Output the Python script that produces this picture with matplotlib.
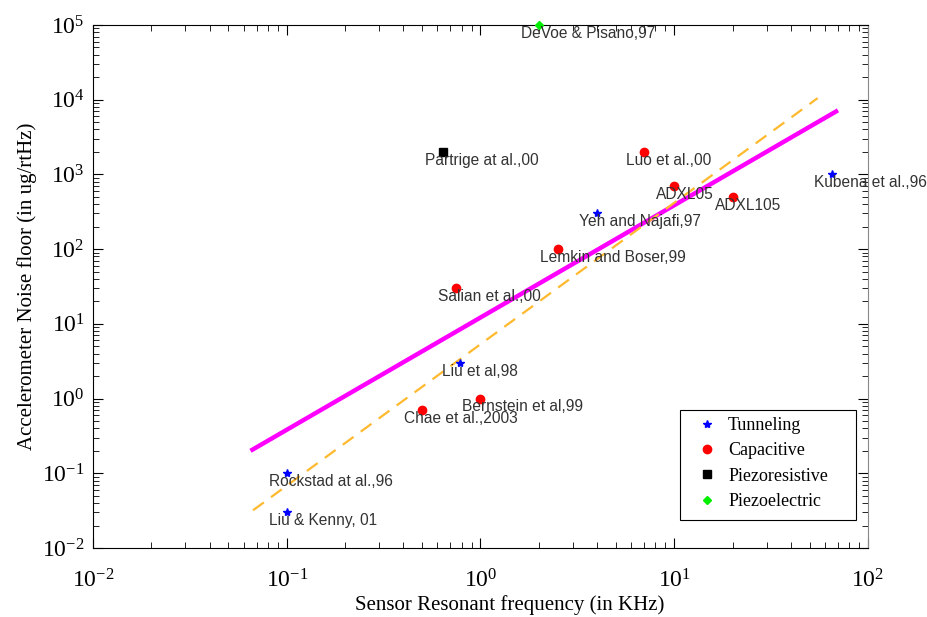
import matplotlib
matplotlib.use("Agg")
import matplotlib.pyplot as plt
from matplotlib.patches import Rectangle
from matplotlib.ticker import LogLocator, NullFormatter

# data (frequency in KHz, noise in ug/rtHz)
TUNNELING_F = [65, 4, 0.78, 0.1, 0.1]
TUNNELING_N = [1000, 300, 3, 0.1, 0.03]
TUNNELING_LBL = ["Kubena et al.,96", "Yeh and Najafi,97", "Liu et al,98",
                 "Rockstad at al.,96", "Liu & Kenny, 01"]

CAPACITIVE_F = [7, 10, 20, 2.5, 0.75, 1.0, 0.5]
CAPACITIVE_N = [2000, 700, 500, 100, 30, 1.0, 0.7]
CAPACITIVE_LBL = ["Luo et al.,00", "ADXL05", "ADXL105", "Lemkin and Boser,99",
                  "Salian et al.,00", "Bernstein et al,99", "Chae et al.,2003"]

PIEZORES_F = [0.64]
PIEZORES_N = [2000]
PIEZORES_LBL = ["Partrige at al.,00"]

PIEZOEL_F = [2.0]
PIEZOEL_N = [1e5]
PIEZOEL_LBL = ["DeVoe & Pisano,97"]

# trend lines (end points)
FIT1_F = [0.065, 70]
FIT1_N = [0.2, 7200]
FIT2_F = [0.067, 55]
FIT2_N = [0.032, 10500]

serif = ["Liberation Serif", "DejaVu Serif"]
plt.rcParams["axes.unicode_minus"] = False
plt.rcParams["mathtext.fontset"] = "custom"
plt.rcParams["mathtext.rm"] = "Liberation Serif"
plt.rcParams["mathtext.it"] = "Liberation Serif:italic"
plt.rcParams["mathtext.default"] = "rm"

W, H = 928, 617
fig = plt.figure(figsize=(W / 100, H / 100), dpi=100)
ax = fig.add_axes([0.1002, 0.1118, 0.8351, 0.8477])

ax.plot(FIT1_F, FIT1_N, color="#ff00ff", lw=3.2, solid_capstyle="butt")
ax.plot(FIT2_F, FIT2_N, color="#ffb92e", lw=1.6, ls=(0, (6, 4)))

groups = [
    (TUNNELING_F, TUNNELING_N, TUNNELING_LBL, "*", "#0000ff", 6, "Tunneling"),
    (CAPACITIVE_F, CAPACITIVE_N, CAPACITIVE_LBL, "o", "#ff0000", 6, "Capacitive"),
    (PIEZORES_F, PIEZORES_N, PIEZORES_LBL, "s", "#000000", 6, "Piezoresistive"),
    (PIEZOEL_F, PIEZOEL_N, PIEZOEL_LBL, "D", "#00ee00", 4.5, "Piezoelectric"),
]
handles = []
for f, n, lbls, mk, col, ms, name in groups:
    h, = ax.plot(f, n, ls="none", marker=mk, color=col, ms=ms, mec=col,
                 clip_on=False, label=name, zorder=4)
    handles.append(h)
    for x, y, t in zip(f, n, lbls):
        ax.annotate(t, (x, y), xytext=(-13, -6), textcoords="offset points",
                    ha="left", va="center", fontsize=11.2, color="#333333",
                    family=["Liberation Sans", "DejaVu Sans"], zorder=5)

ax.set_xscale("log")
ax.set_yscale("log")
ax.set_xlim(1e-2, 1e2)
ax.set_ylim(1e-2, 1e5)

ax.xaxis.set_major_locator(LogLocator(base=10, numticks=10))
ax.xaxis.set_minor_locator(LogLocator(base=10, subs=range(2, 10), numticks=10))
ax.yaxis.set_major_locator(LogLocator(base=10, numticks=10))
ax.yaxis.set_minor_locator(LogLocator(base=10, subs=range(2, 10), numticks=10))
ax.xaxis.set_minor_formatter(NullFormatter())
ax.yaxis.set_minor_formatter(NullFormatter())
ax.tick_params(which="both", direction="in", top=True, right=True)
ax.tick_params(which="major", length=7, labelsize=17)
ax.tick_params(axis="x", which="major", pad=15)
ax.tick_params(axis="y", which="major", pad=6)
ax.tick_params(which="minor", length=4)
for lab in ax.get_xticklabels() + ax.get_yticklabels():
    lab.set_family(serif)
ax.spines["right"].set_color("#888888")

ax.set_xlabel("Sensor Resonant frequency (in KHz)", fontsize=15, family=serif)
ax.set_ylabel("Accelerometer Noise floor (in ug/rtHz)", fontsize=15, family=serif)
ax.xaxis.set_label_coords(0.538, -0.09)

# legend box drawn separately so its padding can follow the reference
fig.patches.append(Rectangle((680 / W, 1 - 520 / H), 176 / W, 110 / H,
                             transform=fig.transFigure, fill=True, fc="white",
                             ec="black", lw=0.8, zorder=6))
leg = fig.legend(handles=handles, loc="upper left",
                 bbox_to_anchor=(698 / W, 1 - 417 / H),
                 bbox_transform=fig.transFigure,
                 prop={"family": serif, "size": 13}, frameon=False,
                 handlelength=1.0, handletextpad=0.67, borderpad=0.0,
                 borderaxespad=0.0, labelspacing=0.46)
leg.set_zorder(7)

fig.savefig("out.png", dpi=100)
